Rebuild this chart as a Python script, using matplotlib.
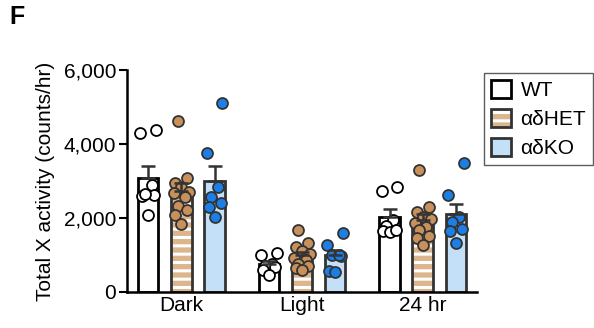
import numpy as np
import matplotlib.pyplot as plt
from matplotlib.patches import Patch
from matplotlib.ticker import FuncFormatter

plt.rcParams['font.family'] = ['Liberation Sans', 'DejaVu Sans']
plt.rcParams['hatch.linewidth'] = 2.2

# Activity per animal (counts/hr) for each period and genotype
periods = ['Dark', 'Light', '24 hr']
genotypes = ['WT', 'αδHET', 'αδKO']

wt = [
    [4300, 4380, 2900, 2620, 2600, 2650, 2080],
    [1050, 1000, 760, 700, 680, 600, 460],
    [2840, 2730, 1950, 1780, 1650, 1620, 1680],
]
het = [
    [4620, 3080, 2950, 2840, 2700, 2680, 2570, 2320, 2220, 2080, 1840],
    [1680, 1320, 1220, 1110, 1030, 920, 865, 760, 700, 650, 600],
    [3300, 2300, 2160, 2030, 1970, 1870, 1760, 1680, 1510, 1460, 1270],
]
ko = [
    [5110, 3760, 2840, 2570, 2400, 2300, 2030],
    [1590, 1270, 1000, 980, 1000, 570, 540],
    [3490, 2620, 2030, 1890, 1700, 1650, 1320],
]

bar_fill = ['white', '#DDB58C', '#C4DFF8']
bar_edge = ['black', '#333333', '#333333']
dot_fill = ['white', '#C8915C', '#1C7FE6']
dot_edge = ['black', '#333333', '#333333']

fig = plt.figure(figsize=(5.94, 3.28), dpi=100)
ax = fig.add_axes([0.214, 0.110, 0.589, 0.677])

offsets = [-0.275, 0.0, 0.275]
width = 0.17
x = np.arange(len(periods))

for g, data in enumerate([wt, het, ko]):
    for p in range(len(periods)):
        vals = np.array(data[p], dtype=float)
        mean = vals.mean()
        sem = vals.std(ddof=1) / np.sqrt(len(vals))
        xc = x[p] + offsets[g]
        if g == 1:
            ax.bar(xc, mean, width, color=bar_fill[g], edgecolor='white',
                   hatch='--', linewidth=0, zorder=1)
            ax.bar(xc, mean, width, fill=False, edgecolor=bar_edge[g],
                   linewidth=2, zorder=2)
        else:
            ax.bar(xc, mean, width, color=bar_fill[g], edgecolor=bar_edge[g],
                   linewidth=2, zorder=2)
        # simple deterministic spread of the points within the bar
        n = len(vals)
        order = np.argsort(vals)
        jit = np.zeros(n)
        pattern = [0.0, -0.05, 0.05, -0.03, 0.03, -0.065, 0.065]
        for k, idx in enumerate(order):
            jit[idx] = pattern[k % len(pattern)]
        ax.scatter(xc + jit, vals, s=62, facecolor=dot_fill[g],
                   edgecolor=dot_edge[g], linewidth=1.3, zorder=3)
        ax.errorbar(xc, mean, yerr=[[0], [sem]], fmt='none', ecolor='#333333',
                    elinewidth=1.8, capsize=5, capthick=1.8, zorder=4)

ax.set_xlim(-0.45, 2.45)
ax.set_ylim(0, 6000)
ax.set_yticks([0, 2000, 4000, 6000])
ax.yaxis.set_major_formatter(FuncFormatter(lambda v, _: f'{int(v):,}'))
ax.set_xticks(x)
ax.set_xticklabels(periods)
ax.tick_params(axis='both', labelsize=15, width=1.5, length=6, pad=2)
ax.tick_params(axis='x', length=0, pad=3)
for side in ['top', 'right']:
    ax.spines[side].set_visible(False)
for side in ['left', 'bottom']:
    ax.spines[side].set_linewidth(1.8)
ax.set_ylabel('Total X activity (counts/hr)', fontsize=15, labelpad=6)

handles = [
    Patch(facecolor=bar_fill[0], edgecolor=bar_edge[0], linewidth=2),
    (Patch(facecolor=bar_fill[1], edgecolor='white', hatch='--', linewidth=0),
     Patch(fill=False, edgecolor=bar_edge[1], linewidth=2)),
    Patch(facecolor=bar_fill[2], edgecolor=bar_edge[2], linewidth=2),
]
leg = fig.legend(handles, genotypes, loc='upper left',
                 bbox_to_anchor=(0.815, 0.778), fontsize=15, frameon=True,
                 fancybox=False, edgecolor='#333333', handlelength=0.95,
                 handleheight=0.95, handletextpad=0.45, borderpad=0.35,
                 labelspacing=0.42, borderaxespad=0)
leg.get_frame().set_linewidth(1.0)

fig.text(0.015, 0.985, 'F', fontsize=18, fontweight='bold', va='top')

fig.savefig('out.png', dpi=100)
